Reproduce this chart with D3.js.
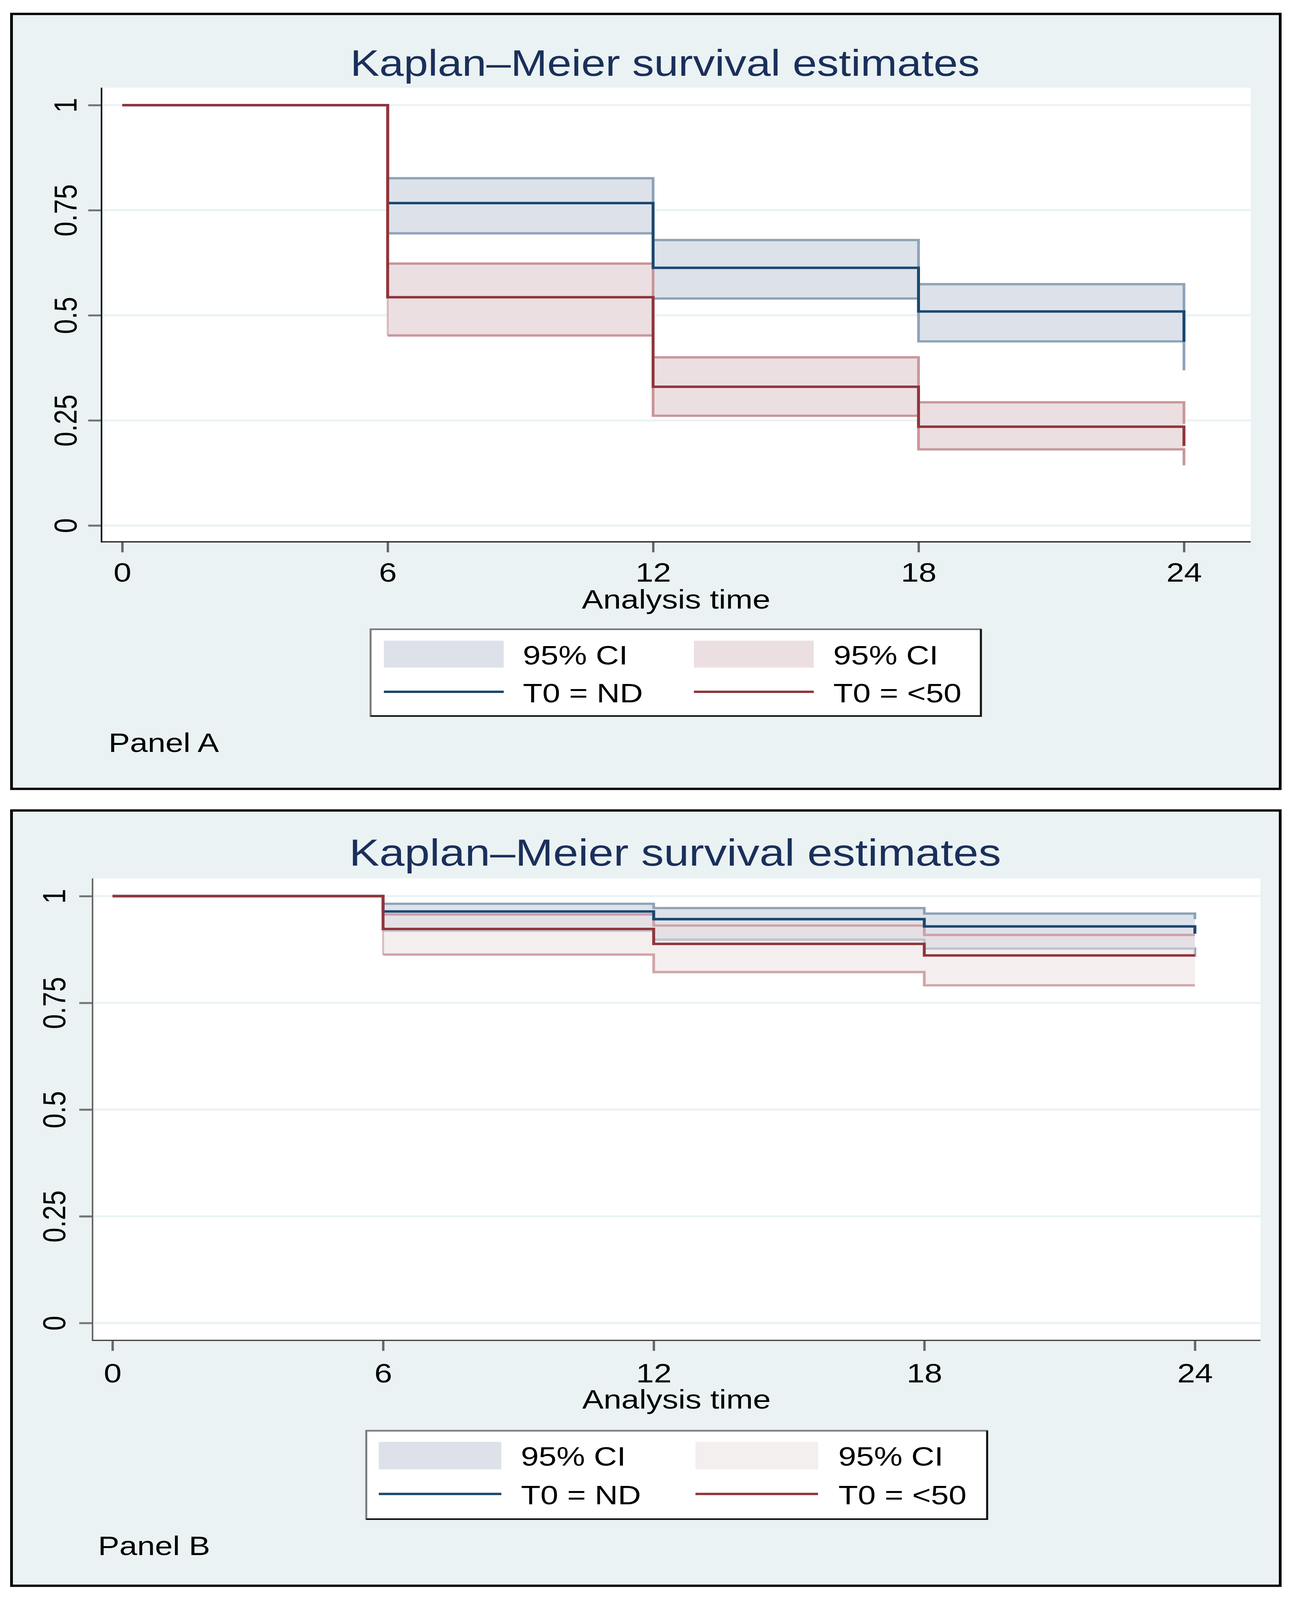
<!DOCTYPE html>
<html>
<head>
<meta charset="utf-8">
<script src="https://cdn.jsdelivr.net/npm/d3@7"></script>
<style>
html, body { margin: 0; padding: 0; background: #fff; overflow: hidden; }
svg { display: block; }
text { font-family: "Liberation Sans", Arial, sans-serif; }
</style>
</head>
<body>
<svg id="chart"></svg>
<script>
'use strict';

// ---- data ----
var times = [0, 6, 12, 18, 24];
var timeTicks = [0, 6, 12, 18, 24];
var survTicks = [0, 0.25, 0.5, 0.75, 1];
var survTickLabels = ["0", "0.25", "0.5", "0.75", "1"];
var chartTitle = "Kaplan\u2013Meier survival estimates";
var xTitle = "Analysis time";
var bandLabel = "95% CI";
var groupLabels = ["T0 = ND", "T0 = <50"];
var panelLabels = ["Panel A", "Panel B"];

// Panel A
var aSurvND  = [1, 0.767, 0.613, 0.509, 0.437];
var aUpperND = [null, 0.826, 0.679, 0.574, 0.48];
var aLowerND = [null, 0.695, 0.540, 0.438, 0.369];
var aSurv50  = [1, 0.543, 0.330, 0.235, 0.189];
var aUpper50 = [null, 0.623, 0.400, 0.293, 0.242];
var aLower50 = [null, 0.452, 0.261, 0.181, 0.143];

// Panel B
var bSurvND  = [1, 0.964, 0.946, 0.929, 0.912];
var bUpperND = [null, 0.982, 0.972, 0.959, 0.946];
var bLowerND = [null, 0.919, 0.898, 0.877, 0.858];
var bSurv50  = [1, 0.923, 0.888, 0.861, 0.861];
var bUpper50 = [null, 0.957, 0.931, 0.909, 0.909];
var bLower50 = [null, 0.863, 0.822, 0.791, 0.791];

var W = 3342, H = 4887;
// draw in reference pixels, stretch to whatever the window really is
var svg = d3.select("#chart")
    .attr("width", window.innerWidth || W)
    .attr("height", window.innerHeight || H)
    .attr("viewBox", "0 0 " + W + " " + H)
    .attr("preserveAspectRatio", "none");

var blue = { line: "#1a476f", band: "#dde2ea", edge: "#8ea3b8" };
var red  = { line: "#90353b", band: "#ecdfe1", edge: "#c8969a" };

var panels = [
    {
        label: panelLabels[0],
        box: [29.5, 42.5, 3278.5, 2409.5],
        plot: { left: 260, right: 3203, top: 268, bottom: 1655 },
        xr: [313, 3032], yr: [1605, 321],
        ylabX: 196, xlabY: 1777, xTitleY: 1859,
        title: { x: 1703, y: 232, size: 112 },
        yAxisColor: "#000", xAxisColor: "#222",
        redOpacity: 1,
        legend: { box: [949, 1922, 2512, 2187], swX: [983, 1777], swW: 307, swY: 1957, swH: 82,
                  lineY: 2113, textX: [1339, 2134], textY: [2029, 2145] },
        labelPos: [278, 2297],
        series: [
            { s: aSurvND, u: aUpperND, l: aLowerND, c: blue },
            { s: aSurv50, u: aUpper50, l: aLower50, c: red }
        ]
    },
    {
        label: panelLabels[1],
        box: [29.5, 2475.5, 3278.5, 4843.5],
        plot: { left: 237, right: 3228, top: 2683, bottom: 4094 },
        xr: [288, 3060], yr: [4041, 2737],
        ylabX: 167, xlabY: 4222, xTitleY: 4302,
        title: { x: 1729, y: 2644, size: 116 },
        yAxisColor: "#666", xAxisColor: "#444",
        redOpacity: 0.53,
        legend: { box: [938, 4370, 2528, 4640], swX: [970, 1781], swW: 314, swY: 4404, swH: 84,
                  lineY: 4563, textX: [1334, 2147], textY: [4477, 4595] },
        labelPos: [251, 4750],
        series: [
            { s: bSurvND, u: bUpperND, l: bLowerND, c: blue },
            { s: bSurv50, u: bUpper50, l: bLower50, c: red }
        ]
    }
];

function drawPanel(p) {
    var g = svg.append("g");
    var pl = p.plot;

    // graph region + frame
    g.append("rect")
        .attr("x", p.box[0]).attr("y", p.box[1])
        .attr("width", p.box[2] - p.box[0]).attr("height", p.box[3] - p.box[1])
        .attr("fill", "#eaf2f3").attr("stroke", "#000").attr("stroke-width", 7);

    // plot region
    g.append("rect")
        .attr("x", pl.left).attr("y", pl.top)
        .attr("width", pl.right - pl.left).attr("height", pl.bottom - pl.top)
        .attr("fill", "#fff");

    var x = d3.scaleLinear().domain([0, 24]).range(p.xr);
    var y = d3.scaleLinear().domain([0, 1]).range(p.yr);

    // gridlines
    g.selectAll(".grid").data(survTicks).enter().append("line")
        .attr("x1", pl.left).attr("x2", pl.right)
        .attr("y1", d => y(d)).attr("y2", d => y(d))
        .attr("stroke", "#eaf2f3").attr("stroke-width", 6);

    var step = d3.curveStepAfter;

    // CI bands first, then survival lines on top
    p.series.forEach(function (s, k) {
        var pts = times.map((t, i) => ({ t: t, s: s.s[i], u: s.u[i], l: s.l[i] }))
            .filter(d => d.u != null);
        var op = (k === 1) ? p.redOpacity : 1;

        g.append("path").datum(pts)
            .attr("d", d3.area().curve(step).x(d => x(d.t)).y0(d => y(d.l)).y1(d => y(d.u)))
            .attr("fill", s.c.band).attr("fill-opacity", op);

        ["u", "l"].forEach(function (key) {
            g.append("path").datum(pts)
                .attr("d", d3.line().curve(step).x(d => x(d.t)).y(d => y(d[key])))
                .attr("fill", "none").attr("stroke", s.c.edge)
                .attr("stroke-width", 7).attr("stroke-opacity", op === 1 ? 1 : 0.85);
        });
        g.append("line")
            .attr("x1", x(pts[0].t)).attr("x2", x(pts[0].t))
            .attr("y1", y(pts[0].u)).attr("y2", y(pts[0].l))
            .attr("stroke", s.c.edge).attr("stroke-width", 5).attr("stroke-opacity", 0.6);
    });

    p.series.forEach(function (s) {
        var pts = times.map((t, i) => ({ t: t, s: s.s[i] }));
        g.append("path").datum(pts)
            .attr("d", d3.line().curve(step).x(d => x(d.t)).y(d => y(d.s)))
            .attr("fill", "none").attr("stroke", s.c.line).attr("stroke-width", 7.5);
    });

    // y axis
    var ya = g.append("g")
        .attr("transform", "translate(" + pl.left + ",0)")
        .call(d3.axisLeft(y).tickValues(survTicks).tickSize(34)
            .tickFormat((d, i) => survTickLabels[i]));
    ya.select(".domain").remove();
    ya.selectAll(".tick line").attr("stroke", "#767676").attr("stroke-width", 6);
    ya.selectAll(".tick text")
        .attr("x", 0).attr("dy", 0)
        .attr("transform", "translate(" + (p.ylabX - pl.left) + ",0) rotate(-90)")
        .attr("text-anchor", "middle")
        .attr("font-size", 82).attr("fill", "#000")
        .attr("font-family", "Liberation Sans, Arial, sans-serif");

    // x axis
    var xa = g.append("g")
        .attr("transform", "translate(0," + pl.bottom + ")")
        .call(d3.axisBottom(x).tickValues(timeTicks).tickSize(32));
    xa.select(".domain").remove();
    xa.selectAll(".tick line").attr("stroke", "#666").attr("stroke-width", 6);
    xa.selectAll(".tick text")
        .attr("y", p.xlabY - pl.bottom).attr("dy", 0)
        .attr("font-size", 82).attr("fill", "#000")
        .attr("font-family", "Liberation Sans, Arial, sans-serif");

    // axis lines
    g.append("line")
        .attr("x1", pl.left).attr("x2", pl.left).attr("y1", pl.top).attr("y2", pl.bottom + 2)
        .attr("stroke", p.yAxisColor).attr("stroke-width", 4);
    g.append("line")
        .attr("x1", pl.left).attr("x2", pl.right).attr("y1", pl.bottom).attr("y2", pl.bottom)
        .attr("stroke", p.xAxisColor).attr("stroke-width", 4);

    // titles
    g.append("text")
        .attr("x", p.title.x).attr("y", p.title.y)
        .attr("text-anchor", "middle").attr("font-size", p.title.size)
        .attr("fill", "#1a2f5a").text(chartTitle);
    g.append("text")
        .attr("x", (pl.left + pl.right) / 2).attr("y", p.xTitleY)
        .attr("text-anchor", "middle").attr("font-size", 82)
        .attr("fill", "#000").text(xTitle);

    // legend
    var L = p.legend;
    var lg = g.append("g");
    lg.append("rect")
        .attr("x", L.box[0]).attr("y", L.box[1])
        .attr("width", L.box[2] - L.box[0]).attr("height", L.box[3] - L.box[1])
        .attr("fill", "#fff").attr("stroke", "#7a7a7a").attr("stroke-width", 5);
    lg.append("path")
        .attr("d", "M" + L.box[2] + "," + L.box[1] + "V" + L.box[3] + "H" + L.box[0])
        .attr("fill", "none").attr("stroke", "#111").attr("stroke-width", 5);

    p.series.forEach(function (s, k) {
        var op = (k === 1) ? p.redOpacity : 1;
        lg.append("rect")
            .attr("x", L.swX[k]).attr("y", L.swY)
            .attr("width", L.swW).attr("height", L.swH)
            .attr("fill", s.c.band).attr("fill-opacity", op);
        lg.append("line")
            .attr("x1", L.swX[k]).attr("x2", L.swX[k] + L.swW)
            .attr("y1", L.lineY).attr("y2", L.lineY)
            .attr("stroke", s.c.line).attr("stroke-width", 7);
        lg.append("text")
            .attr("x", L.textX[k]).attr("y", L.textY[0])
            .attr("font-size", 82).attr("fill", "#000").text(bandLabel);
        lg.append("text")
            .attr("x", L.textX[k]).attr("y", L.textY[1])
            .attr("font-size", 82).attr("fill", "#000").text(groupLabels[k]);
    });

    // panel caption
    g.append("text")
        .attr("x", p.labelPos[0]).attr("y", p.labelPos[1])
        .attr("font-size", 82).attr("fill", "#000").text(p.label);
}

panels.forEach(drawPanel);
</script>
</body>
</html>
